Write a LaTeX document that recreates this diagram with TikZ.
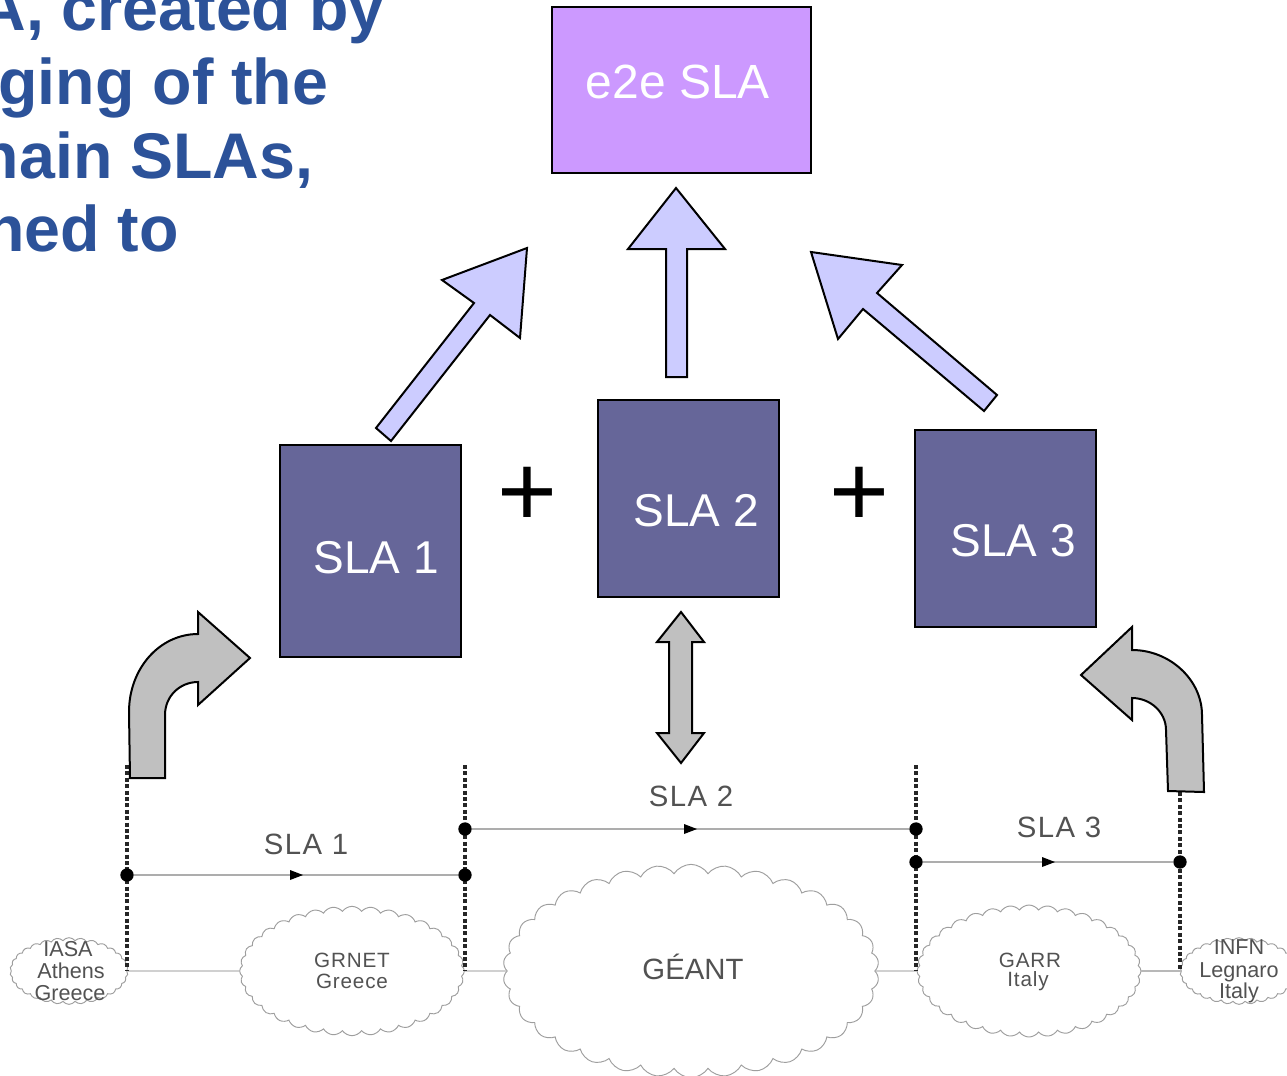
\documentclass[tikz,border=0pt]{standalone}
\usepackage{fontspec}
\setmainfont{Liberation Sans}
\usetikzlibrary{shapes.symbols,arrows.meta}
\definecolor{titleblue}{HTML}{2C5299}
\definecolor{slabox}{HTML}{666699}
\definecolor{purplebox}{HTML}{CC99FF}
\definecolor{liftarrow}{HTML}{CCCCFF}
\definecolor{grayarrow}{HTML}{C0C0C0}
\tikzset{
  titletext/.style={anchor=base east,inner sep=0pt,text=titleblue,font=\fontsize{48.4}{56}\selectfont\bfseries},
  slanode/.style={draw=black,line width=1.5pt,fill=slabox,text=white,inner sep=0pt,minimum width=135.5pt,font=\fontsize{34.5}{40}\selectfont},
  blockarrow/.style={draw=black,line width=1.5pt,line join=miter},
  lift/.style={blockarrow,fill=liftarrow},
  grayarr/.style={blockarrow,fill=grayarrow},
  plussign/.style={inner sep=0pt,font=\fontsize{77}{80}\selectfont},
  netcloud/.style={cloud,draw=black!38,line width=0.7pt,fill=white,cloud ignores aspect,inner sep=0pt},
  border/.style={draw=black!85,line width=3.4pt,dash pattern=on 3pt off 1.8pt},
  slaline/.style={draw=black!32,line width=1pt},
  baseline/.style={draw=black!28,line width=1pt},
  junction/.style={circle,fill=black,inner sep=0pt,minimum size=10pt},
  nettext/.style={text=black!68,inner sep=0pt,font=\fontsize{15.5}{18}\selectfont\addfontfeature{LetterSpace=4}},
  nettextsm/.style={text=black!68,inner sep=0pt,font=\fontsize{16.2}{18}\selectfont},
  slalabel/.style={text=black!68,inner sep=0pt,font=\fontsize{22}{26}\selectfont\addfontfeature{LetterSpace=5}},
}
\begin{document}
\begin{tikzpicture}[x=0.75pt,y=-0.75pt]
\useasboundingbox (0,0) rectangle (1287,1075);
\clip (0,0) rectangle (1287,1075);
\fill[white] (0,0) rectangle (1287,1075);

% title fragment
\node[titletext] (t1) at (385,30) {A, created by};
\node[titletext] (t2) at (328.5,104) {ging of the};
\node[titletext] (t3) at (313.5,178) {nain SLAs,};
\node[titletext] (t4) at (179,251) {ned to};

% boxes
\node[slanode,fill=purplebox,minimum width=194pt,minimum height=124.5pt] (e2e) at (681.5,90) {};
\node[inner sep=0pt,text=white,font=\fontsize{36}{40}\selectfont] (e2etext) at (678,82) {e2e SLA};
\node[slanode,minimum height=159pt] (s1) at (370.5,551) {};
\node[slanode,minimum height=147.75pt] (s2) at (688.5,498.5) {};
\node[slanode,minimum height=147.75pt] (s3) at (1005.5,528.5) {};
\node[inner sep=0pt,text=white,font=\fontsize{34.5}{40}\selectfont] (s1t) at (376,558) {SLA 1};
\node[inner sep=0pt,text=white,font=\fontsize{34.5}{40}\selectfont] (s2t) at (696,511) {SLA 2};
\node[inner sep=0pt,text=white,font=\fontsize{34.5}{40}\selectfont] (s3t) at (1013,541) {SLA 3};
\node[plussign] (p1) at (527,497) {+};
\node[plussign] (p2) at (859.5,497) {+};

% upward arrows
\draw[lift] (376,428) -- (474,303) -- (442,280) -- (527,248) -- (520,338) -- (490,315) -- (391,441) -- cycle;
\draw[lift] (666,377) -- (666,249) -- (628,249) -- (676,188) -- (725,249) -- (687,249) -- (687,377) -- cycle;
\draw[lift] (997,395) -- (877,293) -- (902,265) -- (811,252) -- (838,339) -- (863,309) -- (984,411) -- cycle;

% grey arrows
\draw[grayarr] (681,612) -- (704,642) -- (692,642) -- (692,733) -- (704,733) -- (681,763) -- (657,733) -- (669,733) -- (669,642) -- (657,642) -- cycle;

% clouds
\node[netcloud,cloud puffs=30,cloud puff arc=105,minimum width=88.5pt,minimum height=50pt] (iasa) at (69,971) {};
\node[netcloud,cloud puffs=36,cloud puff arc=110,minimum width=168.5pt,minimum height=97pt] (grnet) at (352,971) {};
\node[netcloud,cloud puffs=34,cloud puff arc=115,minimum width=282pt,minimum height=160pt] (geant) at (691,971) {};
\node[netcloud,cloud puffs=36,cloud puff arc=110,minimum width=168pt,minimum height=99pt] (garr) at (1029,971) {};
\node[netcloud,cloud puffs=30,cloud puff arc=105,minimum width=88.5pt,minimum height=50pt] (infn) at (1239,971) {};

% network labels
\node[nettextsm] (iasa1) at (68,949) {IASA};
\node[nettextsm] (iasa2) at (71,971) {Athens};
\node[nettextsm] (iasa3) at (70,993) {Greece};
\node[nettext] (g1) at (352,960) {GRNET};
\node[nettext] (g2) at (352,981) {Greece};
\node[text=black!68,inner sep=0pt,font=\fontsize{22}{26}\selectfont] (g3) at (693,967) {GÉANT};
\node[nettext] (g4) at (1030,960) {GARR};
\node[nettext] (g5) at (1028,981) {Italy};
\node[nettextsm] (i1) at (1239,947) {INFN};
\node[nettextsm] (i2) at (1239,972) {Legnaro};
\node[nettextsm] (i3) at (1239,993) {Italy};

% border coordinates
\coordinate (a0) at (127,765);
\coordinate (a1) at (127,971);
\coordinate (b0) at (465,765);
\coordinate (b1) at (465,971);
\coordinate (c0) at (916,765);
\coordinate (c1) at (916,971);
\coordinate (d0) at (1180,792);
\coordinate (d1) at (1180,971);

% connectors between clouds
\draw[baseline] (iasa) -- (grnet);
\draw[baseline] (grnet) -- (geant);
\draw[baseline] (geant) -- (garr);
\draw[baseline] (garr) -- (infn);

\draw[border] (a0) -- (a1);
\draw[border] (b0) -- (b1);
\draw[border] (c0) -- (c1);
\draw[border] (d0) -- (d1);

\node[junction] (ja) at (127,875) {};
\node[junction] (jb) at (465,875) {};
\node[junction] (jc) at (465,829) {};
\node[junction] (jd) at (916,829) {};
\node[junction] (je) at (916,862) {};
\node[junction] (jf) at (1180,862) {};
\draw[slaline] (ja) -- (jb);
\draw[slaline] (jc) -- (jd);
\draw[slaline] (je) -- (jf);
\fill[black] (290,870) -- (303,875) -- (290,880) -- cycle;
\fill[black] (684,824) -- (697,829) -- (684,834) -- cycle;
\fill[black] (1042,857) -- (1055,862) -- (1042,867) -- cycle;
\node[slalabel] (l1) at (306,844) {SLA 1};
\node[slalabel] (l2) at (691,796) {SLA 2};
\node[slalabel] (l3) at (1059,827) {SLA 3};

% bent arrows
\draw[grayarr] (130,778) -- (129,712) .. controls (129,668) and (160,634) .. (198,634) -- (198,612) -- (250,658) -- (198,705) -- (198,682) .. controls (180,682) and (165,696) .. (165,715) -- (165,778) -- cycle;
\draw[grayarr] (1081,675) -- (1132,627) -- (1132,650) .. controls (1170,650) and (1202,680) .. (1202,715) -- (1204,792) -- (1168,791) -- (1166,730) .. controls (1166,712) and (1150,698) .. (1132,698) -- (1132,720) -- cycle;
\end{tikzpicture}
\end{document}
